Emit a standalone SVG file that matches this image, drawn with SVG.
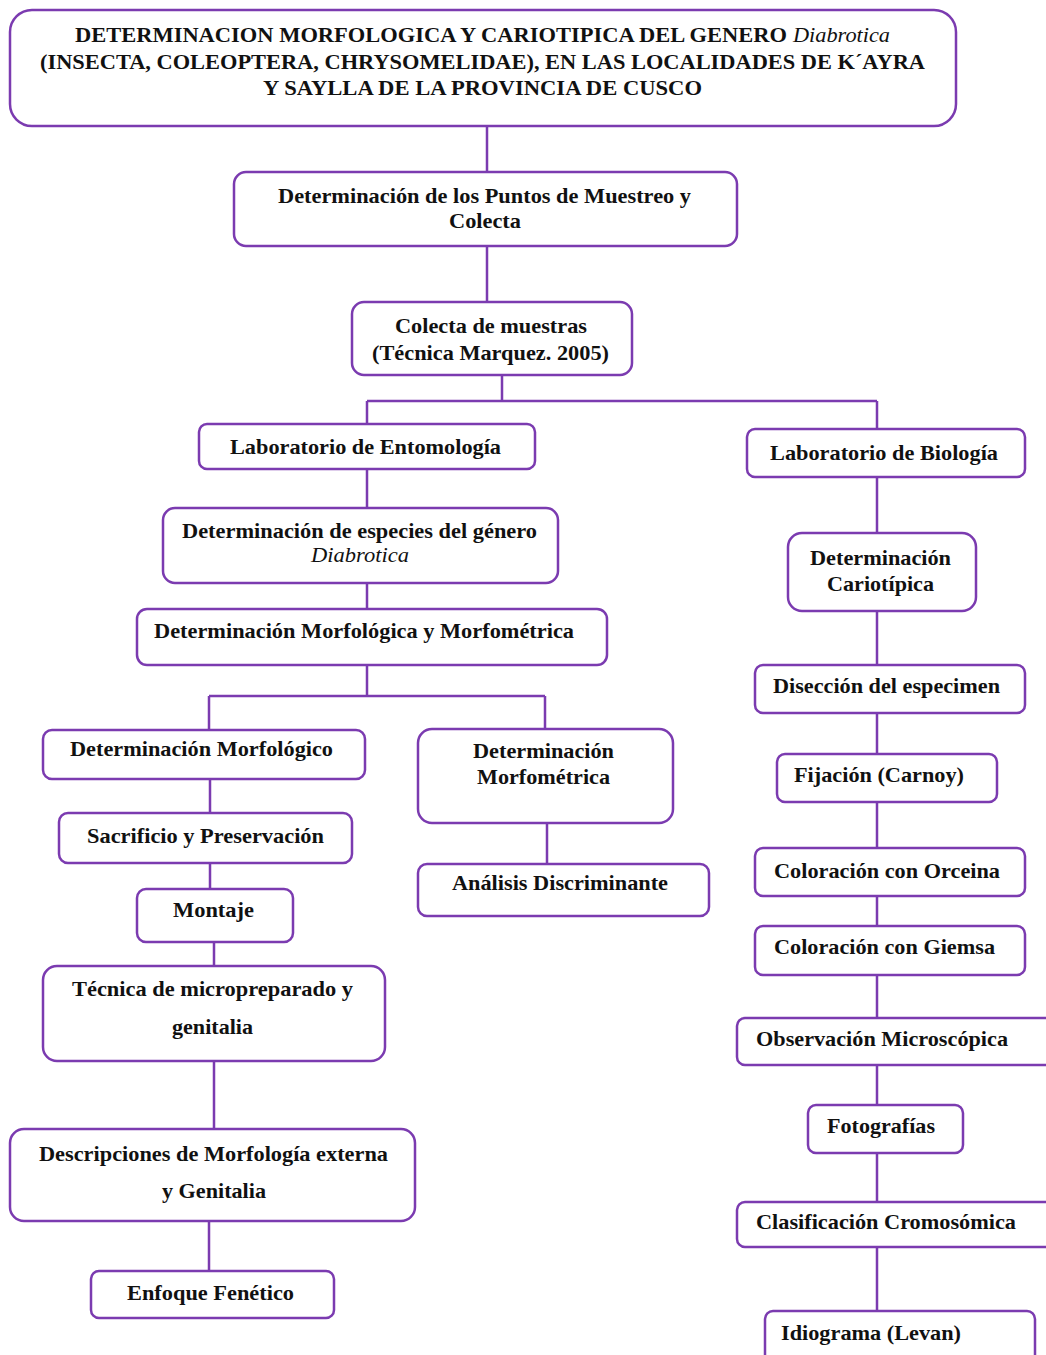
<svg xmlns="http://www.w3.org/2000/svg" width="1046" height="1355" viewBox="0 0 1046 1355">
<style>
.b{fill:#fff;stroke:#7b3bb0;stroke-width:2.5}
.c{fill:none;stroke:#7b3bb0;stroke-width:2.5}
text{font-family:'Liberation Serif','DejaVu Serif',serif;font-size:22px;font-weight:bold;fill:#111}
.i{font-style:italic;font-weight:normal}
</style>
<rect width="1046" height="1355" fill="#fff"/>
<g id="connectors">
<path class="c" d="M487 126V172M487 246V302M502 375V401M367 401H877M367 401V424M877 401V429"/>
<path class="c" d="M367 469V508M367 583V609M367 665V696M209 696H545M209 696V730M545 696V729"/>
<path class="c" d="M210 779V813M210 863V889M547 823V864M214 942V966M214 1061V1129M209 1221V1271"/>
<path class="c" d="M877 477V533M877 611V665M877 713V754M877 802V848M877 896V926M877 975V1018M877 1065V1105M877 1153V1202M877 1247V1311"/>
</g>
<g id="n-title" font-family="Liberation Serif"><rect class="b" x="10" y="10" width="946" height="116" rx="22"/>
<text x="75" y="42" textLength="712" lengthAdjust="spacingAndGlyphs">DETERMINACION MORFOLOGICA Y CARIOTIPICA DEL GENERO</text>
<text class="i" x="793" y="42" textLength="97" lengthAdjust="spacingAndGlyphs">Diabrotica</text>
<text x="40" y="69" textLength="885" lengthAdjust="spacingAndGlyphs">(INSECTA, COLEOPTERA, CHRYSOMELIDAE), EN LAS LOCALIDADES DE K´AYRA</text>
<text x="263" y="95" textLength="439" lengthAdjust="spacingAndGlyphs">Y SAYLLA DE LA PROVINCIA DE CUSCO</text></g>
<g id="n-puntos"><rect class="b" x="234" y="172" width="503" height="74" rx="12"/>
<text x="278" y="203" textLength="413" lengthAdjust="spacingAndGlyphs">Determinación de los Puntos de Muestreo y</text>
<text x="449" y="228" textLength="72" lengthAdjust="spacingAndGlyphs">Colecta</text></g>
<g id="n-colecta"><rect class="b" x="352" y="302" width="280" height="73" rx="12"/>
<text x="395" y="333" textLength="192" lengthAdjust="spacingAndGlyphs">Colecta de muestras</text>
<text x="372" y="360" textLength="237" lengthAdjust="spacingAndGlyphs">(Técnica Marquez. 2005)</text></g>
<g id="n-entomologia"><rect class="b" x="199" y="424" width="336" height="45" rx="8"/>
<text x="230" y="454" textLength="271" lengthAdjust="spacingAndGlyphs">Laboratorio de Entomología</text></g>
<g id="n-biologia"><rect class="b" x="747" y="429" width="278" height="48" rx="8"/>
<text x="770" y="460" textLength="228" lengthAdjust="spacingAndGlyphs">Laboratorio de Biología</text></g>
<g id="n-especies"><rect class="b" x="163" y="508" width="395" height="75" rx="12"/>
<text x="182" y="538" textLength="355" lengthAdjust="spacingAndGlyphs">Determinación de especies del género</text>
<text class="i" x="311" y="562" textLength="98" lengthAdjust="spacingAndGlyphs">Diabrotica</text></g>
<g id="n-morfmorf"><rect class="b" x="137" y="609" width="470" height="56" rx="10"/>
<text x="154" y="638" textLength="420" lengthAdjust="spacingAndGlyphs">Determinación Morfológica y Morfométrica</text></g>
<g id="n-morfologico"><rect class="b" x="43" y="730" width="322" height="49" rx="9"/>
<text x="70" y="756" textLength="263" lengthAdjust="spacingAndGlyphs">Determinación Morfológico</text></g>
<g id="n-morfometrica"><rect class="b" x="418" y="729" width="255" height="94" rx="14"/>
<text x="473" y="758" textLength="141" lengthAdjust="spacingAndGlyphs">Determinación</text>
<text x="477" y="784" textLength="133" lengthAdjust="spacingAndGlyphs">Morfométrica</text></g>
<g id="n-sacrificio"><rect class="b" x="59" y="813" width="293" height="50" rx="9"/>
<text x="87" y="843" textLength="237" lengthAdjust="spacingAndGlyphs">Sacrificio y Preservación</text></g>
<g id="n-analisis"><rect class="b" x="418" y="864" width="291" height="52" rx="9"/>
<text x="452" y="890" textLength="216" lengthAdjust="spacingAndGlyphs">Análisis Discriminante</text></g>
<g id="n-montaje"><rect class="b" x="137" y="889" width="156" height="53" rx="9"/>
<text x="173" y="917" textLength="81" lengthAdjust="spacingAndGlyphs">Montaje</text></g>
<g id="n-tecnica"><rect class="b" x="43" y="966" width="342" height="95" rx="14"/>
<text x="72" y="996" textLength="281" lengthAdjust="spacingAndGlyphs">Técnica de micropreparado y</text>
<text x="172" y="1034" textLength="81" lengthAdjust="spacingAndGlyphs">genitalia</text></g>
<g id="n-descripciones"><rect class="b" x="10" y="1129" width="405" height="92" rx="14"/>
<text x="39" y="1161" textLength="349" lengthAdjust="spacingAndGlyphs">Descripciones de Morfología externa</text>
<text x="162" y="1198" textLength="104" lengthAdjust="spacingAndGlyphs">y Genitalia</text></g>
<g id="n-enfoque"><rect class="b" x="91" y="1271" width="243" height="47" rx="8"/>
<text x="127" y="1300" textLength="167" lengthAdjust="spacingAndGlyphs">Enfoque Fenético</text></g>
<g id="n-cariotipica"><rect class="b" x="788" y="533" width="188" height="78" rx="14"/>
<text x="810" y="565" textLength="141" lengthAdjust="spacingAndGlyphs">Determinación</text>
<text x="827" y="591" textLength="107" lengthAdjust="spacingAndGlyphs">Cariotípica</text></g>
<g id="n-diseccion"><rect class="b" x="755" y="665" width="270" height="48" rx="8"/>
<text x="773" y="693" textLength="227" lengthAdjust="spacingAndGlyphs">Disección del especimen</text></g>
<g id="n-fijacion"><rect class="b" x="777" y="754" width="220" height="48" rx="8"/>
<text x="794" y="782" textLength="170" lengthAdjust="spacingAndGlyphs">Fijación (Carnoy)</text></g>
<g id="n-orceina"><rect class="b" x="755" y="848" width="270" height="48" rx="8"/>
<text x="774" y="878" textLength="226" lengthAdjust="spacingAndGlyphs">Coloración con Orceina</text></g>
<g id="n-giemsa"><rect class="b" x="755" y="926" width="270" height="49" rx="8"/>
<text x="774" y="954" textLength="221" lengthAdjust="spacingAndGlyphs">Coloración con Giemsa</text></g>
<g id="n-observacion"><rect class="b" x="737" y="1018" width="320" height="47" rx="8"/>
<text x="756" y="1046" textLength="252" lengthAdjust="spacingAndGlyphs">Observación Microscópica</text></g>
<g id="n-fotografias"><rect class="b" x="808" y="1105" width="155" height="48" rx="8"/>
<text x="827" y="1133" textLength="108" lengthAdjust="spacingAndGlyphs">Fotografías</text></g>
<g id="n-clasificacion"><rect class="b" x="737" y="1202" width="320" height="45" rx="8"/>
<text x="756" y="1229" textLength="260" lengthAdjust="spacingAndGlyphs">Clasificación Cromosómica</text></g>
<g id="n-idiograma"><rect class="b" x="765" y="1311" width="270" height="60" rx="8"/>
<text x="781" y="1340" textLength="180" lengthAdjust="spacingAndGlyphs">Idiograma (Levan)</text></g>
</svg>
